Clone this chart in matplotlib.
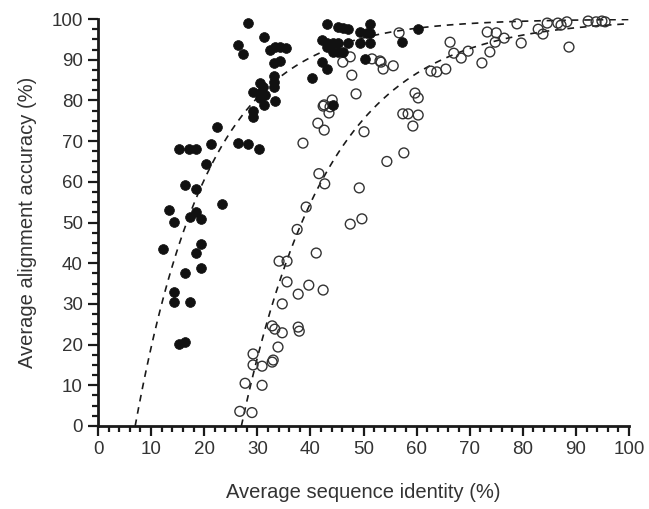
import numpy as np
import matplotlib
matplotlib.use("Agg")
import matplotlib.pyplot as plt
from matplotlib.ticker import MultipleLocator

plt.rcParams['font.family'] = ['Liberation Sans', 'DejaVu Sans']

# Filled circles (dataset 1): (identity %, accuracy %)
filled_x = [12.2, 13.4, 14.3, 14.3, 14.3, 15.3, 15.3, 16.4, 16.4, 16.4, 17.1, 17.3, 17.3,
            18.5, 18.5, 18.5, 18.5, 19.4, 19.4, 19.4, 20.3, 21.3, 22.4, 23.4, 26.4, 28.2, 30.3,
            26.4, 27.3, 28.2, 31.3, 29.2, 29.2, 31.3, 33.3, 29.2, 30.5, 31.1, 30.5, 31.4, 30.5,
            33.1, 33.1, 33.1, 32.4, 33.3, 34.3, 35.4, 33.1, 34.2,
            40.3, 42.2, 43.1, 42.2, 43.1, 44.3, 45.2, 47.1, 49.3, 51.2, 43.1, 44.3, 45.2, 46.1,
            43.1, 45.2, 46.1, 47.1, 49.3, 50.6, 51.3, 51.2, 50.2, 44.3, 57.3, 60.3]
filled_y = [43.5, 53.1, 50.1, 32.9, 30.5, 68.1, 20.1, 20.6, 59.2, 37.6, 68.1, 51.4, 30.5,
            68.1, 52.6, 58.2, 42.5, 50.9, 44.7, 38.8, 64.4, 69.3, 73.5, 54.5, 69.5, 69.3, 68.1,
            93.6, 91.4, 99.0, 95.5, 77.5, 75.8, 78.9, 79.8, 82.1, 84.3, 83.3, 81.8, 81.3, 80.6,
            84.5, 86.0, 83.3, 92.4, 93.1, 93.1, 92.9, 89.2, 89.7,
            85.5, 89.4, 87.7, 94.8, 94.1, 94.1, 94.1, 94.1, 94.1, 94.1, 93.1, 91.9, 91.9, 91.9,
            98.8, 98.0, 97.8, 97.5, 96.8, 96.6, 96.6, 98.8, 90.2, 78.9, 94.3, 97.5]

# Open circles (dataset 2)
open_x = [26.7, 29.0, 27.7, 30.9, 29.2, 29.2, 30.9, 32.8, 33.0, 33.9, 32.8, 33.3, 34.7,
          37.7, 37.9, 34.7, 37.7, 39.7, 42.4, 35.6, 34.1, 35.6, 41.1, 37.5,
          39.2, 47.5, 49.7, 49.2, 41.6, 42.7, 54.4, 57.6, 50.1, 38.6, 41.4, 42.6, 42.4, 43.5,
          57.4, 58.4, 60.3, 59.3, 60.3, 59.7,
          62.7, 63.8, 65.5, 67.0, 68.4, 69.7, 66.3, 72.3, 73.8, 73.3, 75.0, 74.8, 76.5, 78.9,
          55.6, 53.7, 53.1, 51.6, 56.7, 46.1, 47.5, 47.8, 48.6, 44.1, 53.3, 42.6, 43.7,
          79.7, 82.9, 83.8, 84.6, 86.6, 87.2, 88.3, 88.7, 92.3, 93.8, 94.9, 95.5]
open_y = [3.6, 3.3, 10.5, 10.0, 15.0, 17.7, 14.7, 15.7, 16.2, 19.4, 24.6, 23.8, 22.9,
          24.3, 23.3, 30.0, 32.4, 34.6, 33.4, 35.4, 40.5, 40.5, 42.5, 48.3,
          53.8, 49.6, 50.9, 58.5, 62.0, 59.5, 65.0, 67.1, 72.3, 69.5, 74.4, 72.7, 78.6, 76.9,
          76.7, 76.7, 76.4, 73.7, 80.6, 81.8,
          87.2, 87.0, 87.7, 91.6, 90.4, 92.1, 94.3, 89.2, 91.9, 96.8, 96.6, 94.3, 95.3, 98.8,
          88.5, 87.7, 89.7, 90.2, 96.6, 89.4, 90.7, 86.2, 81.6, 80.1, 89.4, 78.9, 78.4,
          94.1, 97.5, 96.3, 99.0, 99.0, 98.5, 99.3, 93.1, 99.5, 99.3, 99.5, 99.3]

# Fitted saturation curves: accuracy = 100 * (1 - exp(-(identity - x0) / k))
fit_filled = {"x0": 7.0, "k": 14.0}
fit_open = {"x0": 27.0, "k": 16.4}

x_ticks = [0, 10, 20, 30, 40, 50, 60, 70, 80, 90, 100]
y_ticks = [0, 10, 20, 30, 40, 50, 60, 70, 80, 90, 100]

fig = plt.figure(figsize=(6.49, 5.09), dpi=100)
ax = fig.add_axes([98 / 649, 83 / 509, 531 / 649, 407 / 509])

for fit in (fit_filled, fit_open):
    xs = np.linspace(fit["x0"], 100, 400)
    ys = 100 * (1 - np.exp(-(xs - fit["x0"]) / fit["k"]))
    ax.plot(xs, ys, linestyle=(0, (4, 3.5)), color="#1a1a1a", linewidth=1.2, zorder=2)

ax.scatter(open_x, open_y, s=50, facecolors="none", edgecolors="#333333",
           linewidths=1.0, zorder=3, clip_on=False)
ax.scatter(filled_x, filled_y, s=50, facecolors="#111111", edgecolors="#111111",
           linewidths=0.5, zorder=4, clip_on=False)

ax.set_xlim(0, 100)
ax.set_ylim(0, 100)
ax.set_xticks(x_ticks)
ax.set_yticks(y_ticks)
ax.xaxis.set_minor_locator(MultipleLocator(2))
ax.yaxis.set_minor_locator(MultipleLocator(2.5))

for s in ("top", "right"):
    ax.spines[s].set_visible(False)
for s in ("left", "bottom"):
    ax.spines[s].set_linewidth(2.0)
    ax.spines[s].set_color("#1a1a1a")

ax.tick_params(which="major", direction="out", length=7, width=1.6, color="#1a1a1a",
               labelsize=13.5, labelcolor="#333333", pad=4)
ax.tick_params(which="minor", direction="out", length=4.5, width=1.6, color="#1a1a1a")

ax.set_xlabel("Average sequence identity (%)", fontsize=14.5, color="#333333", labelpad=18)
ax.set_ylabel("Average alignment accuracy (%)", fontsize=14.5, color="#333333", labelpad=10)

fig.savefig("out.png", dpi=100)
